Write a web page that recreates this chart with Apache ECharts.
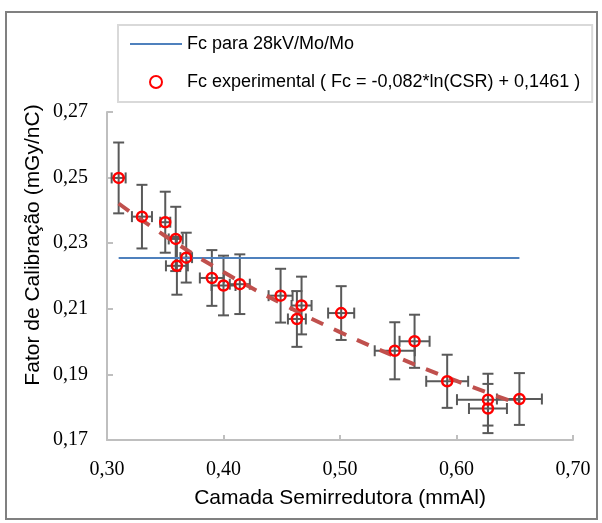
<!DOCTYPE html>
<html>
<head>
<meta charset="utf-8">
<script src="https://cdn.jsdelivr.net/npm/echarts@6/dist/echarts.min.js"></script>
<style>
  html, body { margin: 0; padding: 0; background: #fff; }
  #chart { width: 602px; height: 523px; }
</style>
</head>
<body>
<div id="chart"></div>
<script>
// measured points: CSR (mmAl), Fc (mGy/nC), x error, y error
const csr = [0.310, 0.330, 0.350, 0.359, 0.368, 0.360, 0.390, 0.400, 0.414, 0.449,
  0.467, 0.463, 0.501, 0.547, 0.564, 0.592, 0.627, 0.627, 0.654];
const fc = [0.2499, 0.2381, 0.2364, 0.2313, 0.2256, 0.2231, 0.2194, 0.2171, 0.2175, 0.2140,
  0.2110, 0.2069, 0.2087, 0.1972, 0.2001, 0.1879, 0.1823, 0.1796, 0.1825];
const csrErr = [0.006, 0.0086, 0.0043, 0.006, 0.005, 0.0094, 0.0103, 0.0103, 0.0086, 0.0103,
  0.0086, 0.0077, 0.0112, 0.0172, 0.0129, 0.018, 0.0266, 0.0163, 0.0193];
const fcErr = [0.0108, 0.0097, 0.0093, 0.0098, 0.0076, 0.0088, 0.0085, 0.0091, 0.0091, 0.0082,
  0.0088, 0.0085, 0.0082, 0.0087, 0.0081, 0.0081, 0.0079, 0.0075, 0.0079];

// reference value for 28kV/Mo/Mo
const refX = [0.310, 0.654];
const refY = [0.2255, 0.2255];

// trend line
const trendX = [0.310, 0.350, 0.400, 0.450, 0.500, 0.550, 0.600, 0.654];
const trendY = [0.2421, 0.2322, 0.2212, 0.2116, 0.2029, 0.1951, 0.1880, 0.1809];

const legendNames = ['Fc para 28kV/Mo/Mo', 'Fc experimental ( Fc = -0,082*ln(CSR) + 0,1461 )'];
const xTitle = 'Camada Semirredutora (mmAl)';
const yTitle = 'Fator de Calibração (mGy/nC)';

const comma = (v) => v.toFixed(2).replace('.', ',');
const zip = (a, b) => a.map((v, i) => [v, b[i]]);

const chart = echarts.init(document.getElementById('chart'));

const axisGrey = '#BFBFBF';
const sans = 'Liberation Sans, Arial, sans-serif';
const serif = 'Liberation Serif, Times New Roman, serif';

function renderErrorBar(params, api) {
  const x = api.value(0), y = api.value(1);
  const ex = api.value(2), ey = api.value(3);
  const c = api.coord([x, y]);
  const top = api.coord([x, y + ey]);
  const bot = api.coord([x, y - ey]);
  const left = api.coord([x - ex, y]);
  const right = api.coord([x + ex, y]);
  const cap = 5.5;
  const style = { stroke: '#595959', lineWidth: 2 };
  const seg = (x1, y1, x2, y2) => ({ type: 'line', shape: { x1, y1, x2, y2 }, style });
  return {
    type: 'group',
    children: [
      seg(c[0], top[1], c[0], bot[1]),
      seg(c[0] - cap, top[1], c[0] + cap, top[1]),
      seg(c[0] - cap, bot[1], c[0] + cap, bot[1]),
      seg(left[0], c[1], right[0], c[1]),
      seg(left[0], c[1] - cap, left[0], c[1] + cap),
      seg(right[0], c[1] - cap, right[0], c[1] + cap),
    ],
  };
}

chart.setOption({
  animation: false,
  backgroundColor: '#fff',
  grid: { left: 107, right: 29, top: 112, bottom: 83 },
  legend: {
    data: [
      { name: legendNames[0], icon: 'path://M0,0H52V2H0Z', itemStyle: { color: '#4F81BD' } },
      { name: legendNames[1] },
    ],
    orient: 'vertical',
    left: 118,
    top: 25,
    padding: [10, 12, 11, 12],
    itemGap: 20,
    itemWidth: 52,
    itemHeight: 12,
    borderColor: '#D9D9D9',
    borderWidth: 2,
    textStyle: { fontFamily: sans, fontSize: 18, color: '#000', lineHeight: 18 },
  },
  xAxis: {
    type: 'value',
    min: 0.3,
    max: 0.7,
    interval: 0.1,
    splitLine: { show: false },
    axisLine: { lineStyle: { color: axisGrey, width: 2 } },
    axisTick: { inside: true, length: 5, lineStyle: { color: axisGrey, width: 2 } },
    axisLabel: { formatter: comma, margin: 20, fontFamily: serif, fontSize: 20, color: '#000' },
  },
  yAxis: {
    type: 'value',
    min: 0.17,
    max: 0.27,
    interval: 0.02,
    splitLine: { show: false },
    axisLine: { show: true, lineStyle: { color: axisGrey, width: 2 } },
    axisTick: { show: true, inside: true, length: 6, lineStyle: { color: axisGrey, width: 2 } },
    axisLabel: { formatter: comma, margin: 19, fontFamily: serif, fontSize: 20, color: '#000' },
  },
  graphic: [
    {
      type: 'rect',
      shape: { x: 6, y: 12, width: 591, height: 507 },
      style: { fill: 'none', stroke: '#808080', lineWidth: 2 },
      silent: true,
    },
    {
      type: 'text',
      x: 340,
      y: 498,
      style: { text: xTitle, font: '21px ' + sans, fill: '#000', textAlign: 'center', textVerticalAlign: 'middle' },
    },
    {
      type: 'text',
      x: 33,
      y: 245,
      rotation: Math.PI / 2,
      style: { text: yTitle, font: '21px ' + sans, fill: '#000', textAlign: 'center', textVerticalAlign: 'middle' },
    },
  ],
  series: [
    {
      type: 'custom',
      name: 'erros',
      renderItem: renderErrorBar,
      data: csr.map((v, i) => [v, fc[i], csrErr[i], fcErr[i]]),
      encode: { x: 0, y: 1 },
      z: 1,
      silent: true,
    },
    {
      type: 'line',
      name: legendNames[0],
      data: zip(refX, refY),
      symbol: 'none',
      color: '#4F81BD',
      lineStyle: { color: '#4F81BD', width: 2 },
      z: 2,
    },
    {
      type: 'line',
      name: 'tendência',
      data: zip(trendX, trendY),
      smooth: true,
      symbol: 'none',
      lineStyle: { color: '#C0504D', width: 4, type: [13, 12] },
      z: 3,
    },
    {
      type: 'scatter',
      name: legendNames[1],
      data: zip(csr, fc),
      symbol: 'circle',
      symbolSize: 10,
      itemStyle: { color: 'rgba(255,255,255,0)', borderColor: '#FF0000', borderWidth: 2.5, opacity: 1 },
      z: 4,
    },
  ],
});
</script>
</body>
</html>
